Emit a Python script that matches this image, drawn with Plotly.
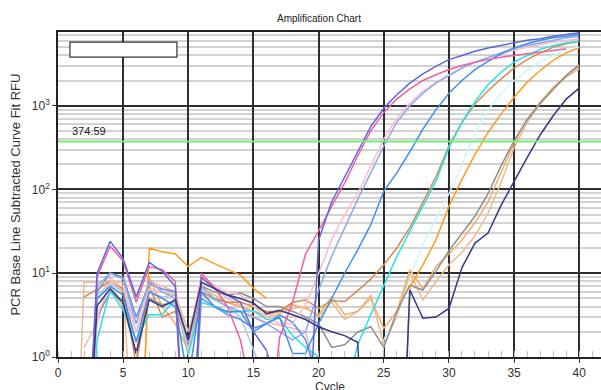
import plotly.graph_objects as go

# ---------------- data ----------------
cycles = list(range(1, 41))
THRESHOLD = 374.59
N = None

royalblue = [N, 0.01, 10, 24, 15, 5.2, 13.5, 10.5, 7, 0.01, 9, 6.5, 5.5, 4.5, 2, 1.2, 0.3, 0.02, 0.02, 25,
             71, 141, 282, 562, 933, 1350, 1862, 2400, 2950, 3550, 3980, 4470, 4900, 5250, 5620, 6030, 6310, 6760, 7080, 7410]
hotpink = [N, 0.01, 9, 21, 14, 4.5, 12, 11, 8, 0.01, 10, 6.8, 4, 1.6, 0.3, 0.05, 1.7, 4.5, 17, 32,
           63, 120, 251, 500, 832, 1200, 1585, 2000, 2340, 2700, 3020, 3310, 3550, 3800, 3980, 4170, 4370, 4570, 4790, N]
lightpink = [N, 0.01, 3, 8, 7, 2, 6.5, 6, 5, 1.2, 8.5, 7, 6, 5.5, 4, 3, 2.5, 2.5, 4.2, 10,
             25, 50, 89, 190, 400, 708, 1070, 1480, 1900, 2340, 2820, 3310, 3720, 4170, 4570, 5010, 5370, 5750, 6030, 6310]
cornflower = [N, 0.01, 7, 10, 8.5, 2.5, 8, 6, 5, 1.5, 7, 5, 4, 3.5, 3, 2.5, 2, 1.6, 2, 6.3,
              16, 35, 76, 158, 331, 631, 1000, 1410, 1860, 2290, 2820, 3310, 3800, 4270, 4790, 5250, 5620, 6030, 6460, 6760]
dodgerblue = [N, 0.01, 5, 7, 5.5, 1.5, 6, 5, 4, 0.5, 6, 4, 3.5, 3.5, 2, 2.5, 3, 1.1, 1.1, 2.5,
              5, 10, 19, 38, 95, 158, 282, 525, 891, 1410, 2000, 2690, 3390, 4170, 4900, 5500, 6030, 6460, 6760, 7080]
peru = [N, 5.2, 6.5, 8, 6.5, 0.8, 7, 3, 3.5, 1.5, 6, 5, 4.5, 4.5, 4, 3.5, 3.5, 4.5, 4.8, 3.8,
        4.7, 4.6, 6.2, 8.5, 12.6, 20, 35, 71, 141, 331, 631, 1050, 1510, 2090, 2820, 3550, 4270, 5010, 5500, 5890]
cyan = [N, 0.01, 1.6, 6.3, 3.6, 1.6, 3.2, 3.2, 5, 1.05, 4.5, 4, 3.4, 3.5, 3.6, 2.8, 2.9, 1.8, 1.3, 1.0,
        0.5, 0.3, 1.4, 3.2, 7.2, 15.8, 31.6, 63, 126, 316, 631, 1120, 1780, 2510, 3310, 3980, 4680, 5250, 5620, 5890]
lightcyan = [N, N, N, N, N, N, N, N, N, N, N, N, N, N, N, N, N, N, N, N,
             N, N, N, 0.01, 1.6, 3.2, 8.9, 22, 45, 89, 200, 479, 891, 1410, 2000, 2630, 3310, 3980, 4570, 5010]
darkorange = [N, N, N, N, N, 0.001, 20, 18, 17, 12, 15.5, 13, 11, 9.5, 6.6, 5, N, N, N, N,
              N, N, N, N, N, 0.001, 6.8, 12.6, 25, 63, 132, 263, 479, 794, 1260, 1910, 2630, 3470, 4270, 4900]
gray = [N, 0.01, 3, 6, 4.5, 1.1, 5, 4.2, 4.5, 1.3, 7, 6, 5.5, 5.8, 5, 4, 4, 3.5, 3, 2.5,
        1.3, 1.4, 2.0, 2.3, 1.3, 3.5, 7.2, 6.3, 10.5, 18.6, 29.5, 47.9, 89, 191, 380, 676, 1070, 1580, 2290, 3090]
tan = [0.001, 7.8, 7.8, 7.8, 7.8, 0.01, 8.5, 6, 5.5, 2, 6.5, 5.5, 4.5, 4, 3.5, 3, 3.3, 3.8, 4, 3,
       4.5, 2.8, 3.5, 5.5, 1.4, 3, 10, 4.8, 7.9, 12.6, 17.8, 28, 52, 120, 316, 631, 1050, 1580, 2190, 2750]
navy = [N, 0.01, 4.1, 6.5, 4.5, 1.1, 4.8, 4.0, 4.8, 1.6, 7.8, 6.6, 5.5, 5.0, 4.4, 3.3, 3.6, 3.2, 2.8, 2.3,
        2.0, 1.8, 1.5, 0.001, N, 0.001, 6.3, 2.9, 3.0, 3.8, 11.7, 22.9, 30.2, 64.6, 126, 240, 447, 759, 1200, 1620]
sandybrown = [N, 0.01, 5, 7, 4, 1.1, 9, 4, 2.5, 1.2, 6, 5, 4.5, 4, 3.5, 3.2, 3.5, 4.2, 3.8, 3.2,
              5.2, 3.2, 3.5, 5, 2.2, 3.5, 11, 6.5, 12, 17, 25, 40, 71, 160, 360, 690, 1100, 1660, 2290, 2950]
salmonpink = [N, 1.3, 2.5, 9, 6, 2.5, 8, 7, 6, 1.5, 9.5, 7, 5, 4.2, 3, 2.6, 2.4, 2.2, 2.0, 0.5,
              0.01, N, N, N, N, N, N, N, N, N, N, N, N, N, N, N, N, N, N, N]
lightblue = [N, 0.01, 5.5, 7.5, 6, 2, 6, 5.2, 5.5, 1.1, 5.5, 4.8, 4, 3, 1.2, 0.5, 0.01, N, N, N,
             N, N, N, N, N, N, N, N, N, N, N, N, N, N, N, N, N, N, N, N]
steelblue = [N, 0.01, 6, 10, 9, 3, 7.5, 6.5, 6, 0.01, 5, 4, 3.2, 2.8, 2.2, 2.5, 3.2, 2.6, 1.6, 0.5,
             0.01, N, N, N, N, N, N, N, N, N, N, N, N, N, N, N, N, N, N, N]

series = [
    ("salmonpink", salmonpink, "#f6b4bc"),
    ("lightblue", lightblue, "#a9c8f2"),
    ("steelblue", steelblue, "#5b8de0"),
    ("lightcyan", lightcyan, "#cff7fb"),
    ("tan", tan, "#e8bc90"),
    ("sandybrown", sandybrown, "#f3ae6c"),
    ("gray", gray, "#8e8e8e"),
    ("darkorange", darkorange, "#ff9b22"),
    ("peru", peru, "#d88a4c"),
    ("cyan", cyan, "#22e2ea"),
    ("lightpink", lightpink, "#ffbccb"),
    ("cornflower", cornflower, "#8ea8ee"),
    ("dodgerblue", dodgerblue, "#3f8fe8"),
    ("hotpink", hotpink, "#f0609e"),
    ("royalblue", royalblue, "#5c66dc"),
    ("navy", navy, "#36368a"),
]

ytickvals = [1, 10, 100, 1000]
yticktext = ["10<sup>0</sup>", "10<sup>1</sup>", "10<sup>2</sup>", "10<sup>3</sup>"]
yminor = [m * d for d in (1, 10, 100, 1000) for m in range(2, 10)]
xtickvals = [0, 5, 10, 15, 20, 25, 30, 35, 40]

# ---------------- figure ----------------
fig = go.Figure()
for name, vals, col in series:
    fig.add_trace(go.Scatter(x=cycles, y=vals, mode="lines", name=name,
                             line=dict(color=col, width=1.5), connectgaps=False,
                             hoverinfo="skip", showlegend=False))

FONT = "Liberation Sans, Arial, sans-serif"
fig.update_layout(
    width=601, height=390,
    margin=dict(l=58, r=0, t=32, b=33, autoexpand=False),
    paper_bgcolor="white", plot_bgcolor="white",
    font=dict(family=FONT, size=12, color="#333"),
    showlegend=False,
)
fig.update_xaxes(
    range=[0, 41.67], tickmode="array", tickvals=xtickvals, automargin=False,
    showgrid=True, gridcolor="#2e2e2e", gridwidth=1.6,
    showline=True, linecolor="#222", linewidth=1.5, mirror=True,
    ticks="outside", ticklen=4, tickcolor="#333", zeroline=False,
    tickfont=dict(size=12, color="#333"),
    minor=dict(dtick=1, tick0=0, ticks="inside", ticklen=6, tickcolor="#c0c0c0", showgrid=False),
)
fig.update_yaxes(
    type="log", range=[0, 3.88], tickmode="array", tickvals=ytickvals, ticktext=yticktext,
    automargin=False,
    showgrid=True, gridcolor="#2e2e2e", gridwidth=1.6,
    showline=True, linecolor="#222", linewidth=1.5,
    ticks="outside", ticklen=4, tickcolor="#333", zeroline=False,
    tickfont=dict(size=12, color="#333"),
    minor=dict(tickmode="array", tickvals=yminor, showgrid=True, gridcolor="#d2d2d2", gridwidth=1.5, ticks=""),
)

# threshold line
fig.add_hline(y=THRESHOLD, line=dict(color="#74ec74", width=2))

# empty legend frame
fig.add_shape(type="rect", xref="paper", yref="paper", x0=0.022, x1=0.219, y0=0.923, y1=0.969,
              line=dict(color="#333", width=1.2), fillcolor="white")

fig.add_annotation(text="374.59", xref="paper", yref="paper", x=0.022, y=0.695,
                   xanchor="left", yanchor="middle", showarrow=False,
                   font=dict(size=11, color="#222"))
fig.add_annotation(text="Amplification Chart", xref="paper", yref="paper", x=0.481, y=1.043,
                   xanchor="center", yanchor="middle", showarrow=False,
                   font=dict(size=10, color="#222"))
fig.add_annotation(text="PCR Base Line Subtracted Curve Fit RFU", xref="paper", yref="paper",
                   x=-0.079, y=0.5, textangle=-90, xanchor="center", yanchor="middle",
                   showarrow=False, font=dict(size=13, color="#333"))
fig.add_annotation(text="Cycle", xref="paper", yref="paper", x=0.5, y=-0.092,
                   xanchor="center", yanchor="middle", showarrow=False,
                   font=dict(size=12, color="#333"))

# remove default page margin so the figure sits at the window's top-left corner
fig.write_html("out.html", config={"displayModeBar": False},
               post_script="document.body.style.margin='0px';")
